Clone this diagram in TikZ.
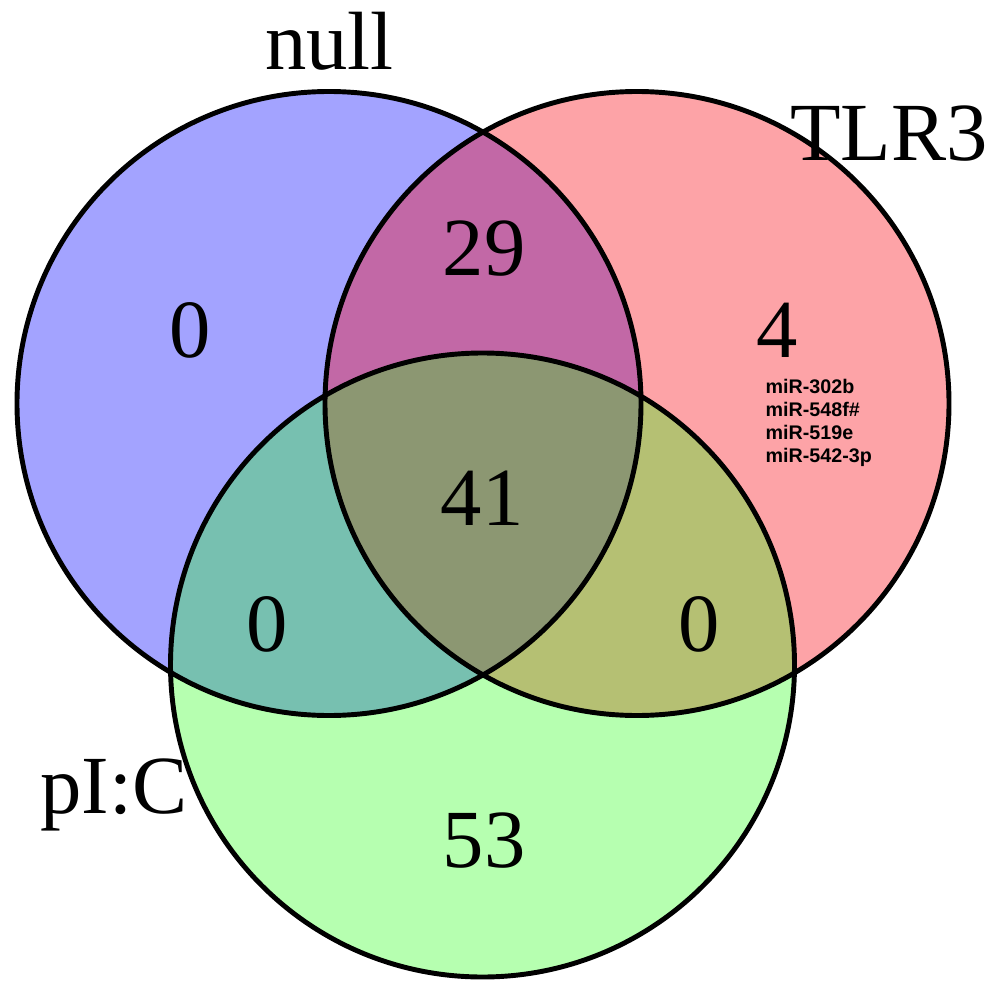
\documentclass[tikz,border=0pt]{standalone}
\usepackage{fontspec}
\setmainfont{Liberation Serif}
\newfontfamily\mirfont{Liberation Sans}
\definecolor{nullcol}{RGB}{0,0,255}
\definecolor{tlrcol}{RGB}{250,0,10}
\definecolor{piccol}{RGB}{20,255,0}
\tikzset{
    venn/.style={fill opacity=0.36},
    count/.style={font=\fontsize{23.5}{28}\selectfont, inner sep=0pt, anchor=base},
    setlabel/.style={font=\fontsize{23.5}{28}\selectfont, inner sep=0pt, anchor=base},
    mir/.style={font=\mirfont\bfseries\fontsize{5.6}{6.6}\selectfont, inner sep=0pt, anchor=base west}
}
\begin{document}
\begin{tikzpicture}[x=0.01cm,y=-0.01cm]
    \useasboundingbox (0,0) rectangle (988,982);
    \coordinate (cnull) at (329,403.5);
    \coordinate (ctlr) at (637,403.5);
    \coordinate (cpic) at (482.5,665);
    \fill[nullcol,venn] (cnull) circle (312);
    \fill[tlrcol,venn] (ctlr) circle (312);
    \fill[piccol,venn,fill opacity=0.31] (cpic) circle (312);
    \draw[line width=1.4pt] (cnull) circle (312) (ctlr) circle (312) (cpic) circle (312);

\node[setlabel] (lnull) at (329.5,70) {null};
\node[setlabel] (ltlr) at (889,161) {TLR3};
\node[setlabel] (lpic) at (114,813) {pI:C};

\node[count] (n0) at (190,357) {0};
\node[count] (n29) at (484,275) {29};
\node[count] (n4) at (777,357) {4};
\node[count] (n41) at (482,525) {41};
\node[count] (n0a) at (267,651) {0};
\node[count] (n0b) at (699,651) {0};
\node[count] (n53) at (484,867) {53};

    \foreach \m [count=\i from 0] in {miR-302b,miR-548f\#,miR-519e,miR-542-3p} {
        \node[mir] (mir\i) at (765,393+23.3*\i) {\m};
    }
\end{tikzpicture}
\end{document}
